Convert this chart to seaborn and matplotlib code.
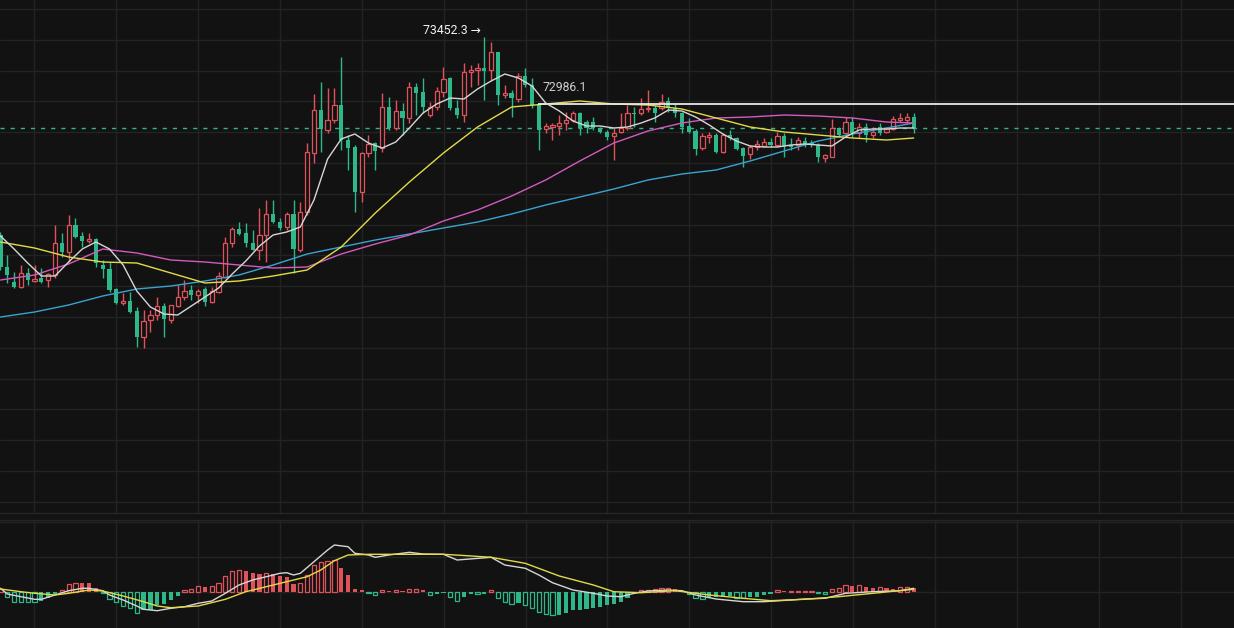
import numpy as np
import pandas as pd
import matplotlib
matplotlib.use("Agg")
import matplotlib.pyplot as plt
import seaborn as sns

# ---------------- data ----------------
opens = [72066, 71842, 71737, 71702, 71800, 71744, 71765, 71751, 71786, 72010,
         71947, 72136, 72059, 72024, 72038, 71856, 71828, 71688, 71590, 71604,
         71534, 71352, 71471, 71506, 71569, 71471, 71569, 71632, 71681, 71646,
         71688, 71597, 71667, 71772, 72010, 72108, 72080, 72010, 71961, 72066,
         72213, 72157, 72122, 72213, 71961, 72227, 72640, 72941, 72801, 72871,
         72976, 72731, 72682, 72367, 72640, 72710, 72675, 72962, 72815, 72934,
         72885, 73102, 73067, 72906, 72962, 73067, 73165, 72955, 72906, 73207,
         73221, 73235, 73221, 73347, 73046, 73060, 73018, 73179, 73116, 72976,
         72808, 72822, 72829, 72850, 72871, 72920, 72857, 72857, 72815, 72787,
         72759, 72787, 72815, 72920, 72920, 72948, 72955, 72955, 73004, 72955,
         72920, 72829, 72794, 72675, 72752, 72766, 72647, 72766, 72745, 72675,
         72633, 72682, 72689, 72717, 72696, 72759, 72696, 72696, 72724, 72710,
         72696, 72605, 72612, 72815, 72780, 72857, 72780, 72822, 72766, 72822,
         72787, 72808, 72871, 72871, 72892]
highs = [72087, 71926, 71807, 71856, 71835, 71856, 71835, 71800, 72136, 72080,
         72206, 72185, 72087, 72080, 72045, 71891, 71877, 71695, 71660, 71667,
         71562, 71541, 71541, 71632, 71590, 71576, 71716, 71751, 71716, 71688,
         71702, 71702, 71807, 72052, 72122, 72157, 72150, 72101, 72255, 72311,
         72311, 72185, 72227, 72311, 72297, 72710, 73053, 73137, 73095, 73095,
         73312, 72766, 72696, 72647, 72766, 72717, 73060, 73032, 73011, 72990,
         73137, 73130, 73165, 72997, 73102, 73242, 73172, 73011, 73270, 73256,
         73270, 73452.3, 73417, 73347, 73116, 73081, 73200, 73235, 73165, 72990,
         72850, 72850, 72906, 72927, 72934, 72927, 72871, 72892, 72822, 72801,
         72815, 72920, 72976, 72962, 73025, 73081, 72976, 73053, 73032, 72990,
         72927, 72885, 72808, 72780, 72787, 72780, 72780, 72801, 72752, 72682,
         72696, 72731, 72745, 72745, 72787, 72780, 72745, 72752, 72752, 72731,
         72710, 72633, 72878, 72822, 72892, 72892, 72850, 72850, 72822, 72850,
         72822, 72899, 72920, 72920, 72920]
lows = [71821, 71730, 71695, 71695, 71716, 71737, 71730, 71702, 71765, 71912,
        71877, 72045, 71982, 72010, 71842, 71765, 71667, 71583, 71576, 71520,
        71282, 71275, 71387, 71471, 71352, 71450, 71562, 71611, 71611, 71590,
        71569, 71590, 71660, 71765, 71982, 72066, 71982, 71961, 71891, 71877,
        72150, 72101, 72101, 71800, 71947, 72206, 72570, 72647, 72780, 72850,
        72661, 72521, 72227, 72297, 72612, 72521, 72647, 72801, 72801, 72766,
        72850, 72906, 72920, 72892, 72941, 73032, 72941, 72885, 72857, 73102,
        73116, 73011, 73151, 72976, 73025, 72892, 72997, 73102, 72955, 72661,
        72780, 72731, 72766, 72801, 72857, 72766, 72780, 72801, 72780, 72731,
        72591, 72780, 72801, 72822, 72906, 72927, 72857, 72941, 72927, 72892,
        72780, 72780, 72626, 72661, 72710, 72640, 72640, 72731, 72661, 72542,
        72598, 72661, 72682, 72682, 72682, 72612, 72661, 72661, 72682, 72682,
        72577, 72577, 72612, 72752, 72766, 72752, 72745, 72717, 72745, 72766,
        72780, 72801, 72857, 72850, 72780]
closes = [71842, 71786, 71702, 71800, 71751, 71758, 71737, 71793, 72010, 71947,
          72136, 72052, 72024, 72038, 71870, 71828, 71681, 71590, 71604, 71527,
          71352, 71464, 71506, 71569, 71478, 71576, 71632, 71674, 71646, 71674,
          71597, 71674, 71779, 72010, 72108, 72073, 72010, 71961, 72066, 72213,
          72157, 72115, 72213, 71968, 72227, 72647, 72941, 72808, 72871, 72976,
          72731, 72675, 72367, 72640, 72703, 72654, 72962, 72815, 72934, 72885,
          73102, 73060, 72962, 72962, 73074, 73158, 72955, 72906, 73207, 73221,
          73235, 73214, 73347, 73046, 73060, 73025, 73179, 73116, 72969, 72801,
          72829, 72836, 72850, 72871, 72920, 72815, 72815, 72815, 72787, 72752,
          72780, 72815, 72920, 72913, 72948, 72955, 72920, 72997, 72955, 72920,
          72822, 72787, 72668, 72759, 72766, 72647, 72766, 72745, 72668, 72619,
          72682, 72703, 72717, 72696, 72759, 72689, 72682, 72731, 72696, 72696,
          72612, 72626, 72815, 72766, 72857, 72780, 72822, 72766, 72787, 72780,
          72808, 72878, 72885, 72892, 72815]

# moving averages, sampled at candle indices
ma_idx = [0, 5, 10, 15, 20, 25, 30, 35, 40, 45, 50, 55, 60, 65, 70, 75, 80,
          85, 90, 95, 100, 105, 110, 115, 120, 125, 130, 134]
ma_yellow = [72017, 71975, 71912, 71877, 71870, 71800, 71730, 71744, 71779, 71821,
             71982, 72220, 72437, 72640, 72822, 72962, 72983, 73004, 72983, 72976,
             72948, 72885, 72822, 72787, 72766, 72745, 72731, 72745]
ma_pink = [71751, 71786, 71863, 71968, 71940, 71891, 71877, 71856, 71835, 71842,
           71933, 72003, 72066, 72164, 72241, 72339, 72451, 72584, 72710, 72794,
           72850, 72885, 72892, 72906, 72899, 72885, 72857, 72850]
ma_blue = [71492, 71527, 71576, 71639, 71688, 71709, 71744, 71786, 71856, 71933,
           71982, 72031, 72073, 72115, 72157, 72213, 72276, 72332, 72388, 72451,
           72493, 72521, 72584, 72654, 72724, 72773, 72815, 72850]
ma_white_idx = list(range(0, 135, 2))
ma_white = [72059, 71968, 71870, 71779, 71779, 71877, 71968, 72017, 71968, 71856,
            71674, 71562, 71513, 71506, 71569, 71632, 71695, 71793, 71884, 71989,
            72066, 72087, 72122, 72311, 72598, 72738, 72773, 72710, 72675, 72717,
            72815, 72920, 72983, 73025, 73018, 73088, 73144, 73193, 73165, 73109,
            72990, 72934, 72864, 72829, 72829, 72815, 72822, 72850, 72885, 72941,
            72934, 72892, 72836, 72773, 72724, 72689, 72682, 72682, 72696, 72703,
            72696, 72689, 72752, 72801, 72808, 72808, 72815, 72815]

# MACD panel
macd_hist = [3, -5, -10, -10, -10, -10, -9, -6, -2, 2,
             8, 9, 8.9, 8.7, 4, -1, -7, -10, -14, -16,
             -21, -18, -17.8, -13, -12, -8, -4, 2, 3.5, 6,
             5, 6, 9, 16, 21, 22, 21.5, 19, 18, 19,
             18, 16, 15, 8, 9, 17, 27, 30, 31, 32,
             24, 17, 3, 2, -1, -3, 2, 1, 2, 1,
             3, 3.2, 2, -3, -2, -1, -4.5, -9, -5, -2,
             -2, -1.5, 2, -6, -10, -12, -11, -13, -16, -20,
             -22, -23, -22.5, -21, -18, -17.5, -17, -16, -15, -13,
             -12, -10, -6, -2, 2, 2.5, 3, 4, 4.2, 3,
             1, -2, -6, -7, -6, -5, -4.8, -4, -6, -6.2,
             -5, -4.5, -3, -2, 2, 1, 1, 1, 1, 1,
             -1, -1.5, 3, 4, 7, 6.5, 7, 5, 4, 5.5,
             4, 3.5, 5, 5.2, 4]
dif_idx = [0, 1, 3, 5, 6, 8, 10, 12, 13, 15, 16, 18, 20, 21, 23, 25, 27, 29, 31, 33,
           35, 37, 39, 41, 42, 43, 44, 46, 48, 49, 51, 52, 54, 55, 57, 60, 62, 65, 67, 72,
           74, 77, 79, 81, 84, 87, 89, 91, 93, 95, 98, 100, 102, 105, 109, 112, 116, 118,
           121, 124, 128, 132, 134]
dif = [3.7, -2, -4.7, -7.3, -7.3, -3, 1.3, 3.7, 3.7, 1.3, -3, -8, -14, -17.3, -18.7,
       -16.3, -14.7, -11.3, -9, -1.3, 7, 12, 15.3, 18.7, 19.3, 17, 18.7, 30.3, 42, 47,
       45.3, 38.7, 37, 34.7, 37, 39.7, 38, 37.7, 32, 34.7, 27, 23.7, 17, 9.3, 2, -1.3,
       -4, -4.7, -1.3, 1, 2, 1.3, -3, -7, -9.7, -9.7, -8, -7, -6.3, -1.3, 0.3, 1.3, 3.7]
dea_idx = [0, 3, 5, 8, 10, 13, 15, 18, 21, 23, 25, 29, 33, 36, 39, 42, 45, 47, 49, 51,
           54, 59, 65, 68, 72, 77, 82, 87, 90, 94, 99, 104, 109, 113, 118, 123, 128, 134]
dea = [3, 0.3, -1.3, -3, -1.3, 2, 1, -4, -9.7, -14, -15.7, -14, -7.3, 0.3, 5.3, 10.3,
       15.3, 22, 31.3, 37, 37.7, 37.7, 37.7, 36.5, 34.7, 28.7, 16, 7, 0.3, -0.7, 1.3,
       -3, -6.3, -8.7, -7.3, -4.7, -1.3, 2.7]

high_label = "73452.3 \u2192"
line_price = 72986.1
line_label = "72986.1"
line_start = 78.9

# ---------------- style ----------------
BG = "#121212"
GRID = "#232323"
GREEN = "#2EB88A"
RED = "#E0525A"
YELLOW = "#E2DA48"
PINK = "#D35ABF"
BLUE = "#3AA3CF"
WHITE = "#D6D6D6"

sns.set_theme(style="dark", rc={"axes.facecolor": BG, "figure.facecolor": BG,
                                "grid.color": GRID, "axes.edgecolor": BG})
plt.rcParams["font.family"] = ["Roboto", "DejaVu Sans"]

fig = plt.figure(figsize=(12.34, 6.28), dpi=100)
H = 628.0
ax = fig.add_axes([0, 1 - 513 / H, 1, 513 / H])
axm = fig.add_axes([0, 0, 1, 108 / H])

n = len(opens)
idx = np.arange(n)
df = pd.DataFrame({"i": idx, "open": opens, "high": highs, "low": lows, "close": closes})
up = (df["close"] >= df["open"]).values
cols = np.where(up, RED, GREEN)

xmin, xmax = -0.07, 181.0
for a in (ax, axm):
    a.set_xlim(xmin, xmax)
    a.set_xticks(np.arange(4.92, xmax, 12.02))
    a.grid(True, color=GRID, lw=1.0)
    a.tick_params(length=0, labelbottom=False, labelleft=False)
    for s in a.spines.values():
        s.set_visible(False)
    a.set_axisbelow(True)

ax.set_ylim(70120, 73711)
ax.set_yticks(73648 - 215.6 * np.arange(0, 17))

# candles
ax.vlines(df["i"], df["low"], df["high"], colors=cols, lw=1.0, zorder=2)
body_lo = np.minimum(df["open"], df["close"])
body_h = np.maximum(np.abs(df["close"] - df["open"]), 6)
W = 0.62
ax.bar(df["i"][up], body_h[up], bottom=body_lo[up], width=W, facecolor=BG,
       edgecolor=RED, lw=0.9, zorder=3)
ax.bar(df["i"][~up], body_h[~up], bottom=body_lo[~up], width=W, color=GREEN,
       lw=0, zorder=3)

# moving averages
sns.lineplot(x=ma_idx, y=ma_blue, ax=ax, color=BLUE, lw=1.0, zorder=4, estimator=None)
sns.lineplot(x=ma_idx, y=ma_pink, ax=ax, color=PINK, lw=1.0, zorder=4, estimator=None)
sns.lineplot(x=ma_idx, y=ma_yellow, ax=ax, color=YELLOW, lw=1.0, zorder=4, estimator=None)
sns.lineplot(x=ma_white_idx, y=ma_white, ax=ax, color=WHITE, lw=1.0, zorder=5, estimator=None)

# price lines & labels
ax.axhline(closes[-1], color=GREEN, ls=(0, (3, 4.3)), lw=1.0, zorder=1)
ax.hlines(line_price, line_start, xmax, color="#E8E8E8", lw=1.3, zorder=4)
ax.text(line_start + 0.6, line_price + 110, line_label, color="#CFCFCF",
        fontsize=8.8, ha="left", va="center", zorder=6)
imax = int(np.argmax(highs))
ax.text(imax - 0.45, highs[imax] + 42, high_label, color="#F2F2F2", fontsize=8.8,
        ha="right", va="center", zorder=6)

# MACD
axm.set_ylim(-36, 72)
axm.set_yticks([0, 35, 70])
hist = np.array(macd_hist, dtype=float)
prev = np.concatenate([[0.0], hist[:-1]])
hollow = (hist * prev <= 0) | (np.abs(hist) >= np.abs(prev))
hcol = np.where(hist >= 0, RED, GREEN)
for i in range(n):
    if hollow[i]:
        axm.bar(i, hist[i], width=W, facecolor=BG, edgecolor=hcol[i], lw=0.9, zorder=3)
    else:
        axm.bar(i, hist[i], width=W, color=hcol[i], lw=0, zorder=3)
sns.lineplot(x=dif_idx, y=dif, ax=axm, color=WHITE, lw=1.0, zorder=4, estimator=None)
sns.lineplot(x=dea_idx, y=dea, ax=axm, color=YELLOW, lw=1.0, zorder=5, estimator=None)

for yy in (512.5, 519.5):
    fig.add_artist(plt.Line2D([0, 1], [1 - yy / H] * 2, color="#262626", lw=1.0))

fig.savefig("out.png", dpi=100, facecolor=BG)
